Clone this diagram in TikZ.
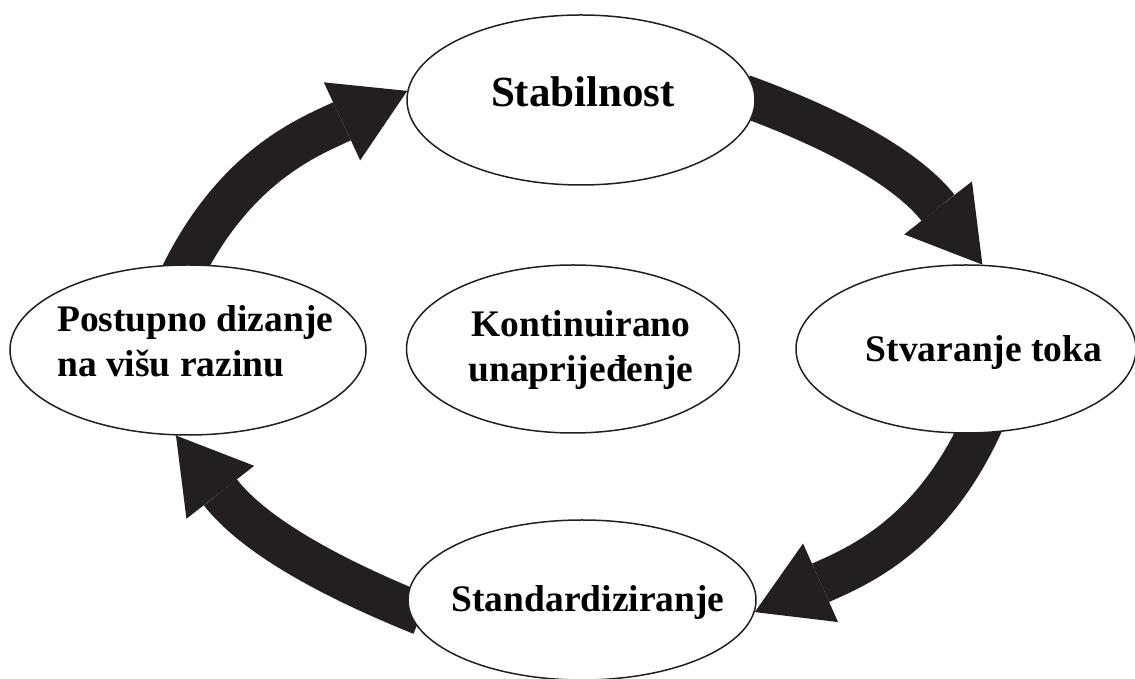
\documentclass[tikz,border=0pt]{standalone}
\usepackage{fontspec}
\setmainfont{Liberation Serif}
\usetikzlibrary{arrows.meta,shapes.geometric,backgrounds}
\definecolor{ink}{RGB}{35,31,32}
\begin{document}
\begin{tikzpicture}[x=1pt,y=1pt,
  oval/.style={ellipse, draw=ink, line width=1.5pt, fill=white, inner sep=0pt},
  lbl/.style={font=\bfseries\fontsize{37.5}{45}\selectfont, inner sep=0pt, text=black},
  biglbl/.style={font=\bfseries\fontsize{43}{50}\selectfont, inner sep=0pt, text=black},
  flow/.style={draw=ink, line width=42pt, -{Triangle[length=72pt,width=86pt,line width=0pt]}, shorten <=-14pt}]
\useasboundingbox (0,0) rectangle (1135,679);
\node[oval, minimum width=348pt, minimum height=170pt] (stab) at (581,579) {};
\node[oval, minimum width=356pt, minimum height=170pt] (post) at (188,329) {};
\node[oval, minimum width=333pt, minimum height=168pt] (kont) at (573,330) {};
\node[oval, minimum width=340pt, minimum height=168pt] (stva) at (966,330) {};
\node[oval, minimum width=348pt, minimum height=160pt] (stdz) at (582,79) {};
\node[biglbl, anchor=base] (tstab) at (583,572) {Stabilnost};
\node[lbl, anchor=base west, align=left] (tpost) at (57,302) {Postupno dizanje\\na višu razinu};
\node[lbl, anchor=base, align=center] (tkont) at (581,297) {Kontinuirano\\unaprijeđenje};
\node[lbl, anchor=base] (tstva) at (984,317) {Stvaranje toka};
\node[lbl, anchor=base] (tstdz) at (588,67) {Standardiziranje};
\begin{scope}[on background layer]
\draw[flow] (stab.0) to[out=-20,in=128] (stva.79);
\draw[flow] (stva.-82) to[out=-114,in=24] (stdz.-4);
\draw[flow] (stdz.183) to[out=158,in=-52] (post.-98);
\draw[flow] (post.91) to[out=64,in=-155] (stab.177);
\end{scope}
\end{tikzpicture}
\end{document}
